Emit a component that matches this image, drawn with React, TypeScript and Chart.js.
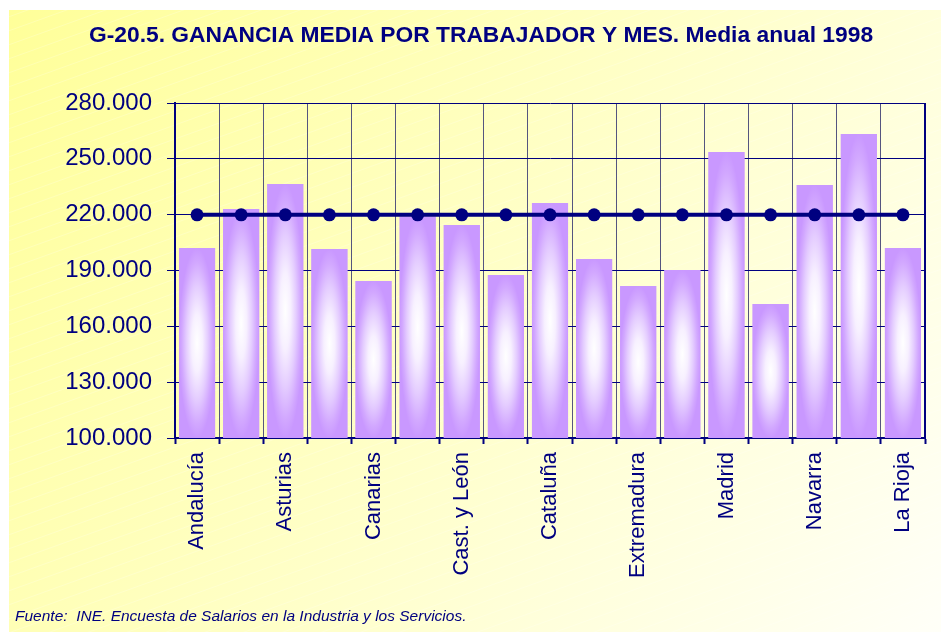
import { useEffect, useRef } from "react";
import { Chart, registerables } from "chart.js";

Chart.register(...registerables);

const regions = [
  "Andalucía",
  "Aragón",
  "Asturias",
  "Baleares",
  "Canarias",
  "Cantabria",
  "Cast. y León",
  "Cast.-La Mancha",
  "Cataluña",
  "C. Valenciana",
  "Extremadura",
  "Galicia",
  "Madrid",
  "Murcia",
  "Navarra",
  "País Vasco",
  "La Rioja",
];

const regionalEarnings = [
  202100, 223000, 236500, 201500, 184400, 219000, 214500, 187600, 226300,
  196200, 181700, 190300, 253700, 172000, 236000, 263400, 202100,
];

const nationalAverage = [
  219900, 219900, 219900, 219900, 219900, 219900, 219900, 219900, 219900,
  219900, 219900, 219900, 219900, 219900, 219900, 219900, 219900,
];

const yMin = 100000;
const yMax = 280000;
const yStep = 30000;

const titleText = "G-20.5. GANANCIA MEDIA POR TRABAJADOR Y MES. Media anual 1998";
const sourceText = "Fuente:  INE. Encuesta de Salarios en la Industria y los Servicios.";

const NAVY = "#000080";
const FONT = "'Liberation Sans', Arial, sans-serif";

const W = 941;
const H = 632;

function formatThousands(v: number): string {
  return String(Math.round(v)).replace(/\B(?=(\d{3})+(?!\d))/g, ".");
}

const backgroundPlugin = {
  id: "bgPanel",
  beforeDraw(chart: any) {
    const ctx = chart.ctx as CanvasRenderingContext2D;
    ctx.save();
    ctx.fillStyle = "#ffffff";
    ctx.fillRect(0, 0, W, H);
    const g = ctx.createLinearGradient(9, 10, W, H);
    g.addColorStop(0, "#FFFF99");
    g.addColorStop(0.5, "#FFFFC8");
    g.addColorStop(1, "#FFFFF8");
    ctx.fillStyle = g;
    ctx.fillRect(9, 10, W - 9, H - 10);
    ctx.beginPath();
    ctx.rect(9, 10, W - 9, H - 10);
    ctx.clip();
    ctx.strokeStyle = "rgba(255,255,255,0.22)";
    ctx.lineWidth = 1;
    const slope = 0.36;
    for (let c = -400; c < H + W * slope + 20; c += 14) {
      ctx.beginPath();
      ctx.moveTo(0, c);
      ctx.lineTo(W, c - W * slope);
      ctx.stroke();
    }
    ctx.restore();
  },
};

const frameAndTextPlugin = {
  id: "frameText",
  beforeDatasetsDraw(chart: any) {
    const ctx = chart.ctx as CanvasRenderingContext2D;
    const a = chart.chartArea;
    ctx.save();
    ctx.strokeStyle = NAVY;
    ctx.lineWidth = 2;
    ctx.beginPath();
    ctx.moveTo(a.right, a.top);
    ctx.lineTo(a.right, a.bottom);
    ctx.stroke();
    ctx.restore();
  },
  afterDraw(chart: any) {
    const ctx = chart.ctx as CanvasRenderingContext2D;
    ctx.save();
    ctx.fillStyle = NAVY;
    ctx.font = `bold 22.8px ${FONT}`;
    ctx.textAlign = "center";
    ctx.textBaseline = "alphabetic";
    ctx.fillText(titleText, 481, 42);
    ctx.font = `italic 15.5px ${FONT}`;
    ctx.textAlign = "left";
    ctx.fillText(sourceText, 15, 621);
    ctx.restore();
  },
};

const barGlowPlugin = {
  id: "barGlow",
  afterDatasetDraw(chart: any, args: any) {
    if (args.meta.type !== "bar") return;
    const ctx = chart.ctx as CanvasRenderingContext2D;
    const area = chart.chartArea;
    for (const el of args.meta.data) {
      const p = el.getProps(["x", "y", "base", "width"], true);
      const w = p.width;
      const top = Math.max(Math.min(p.y, p.base), area.top);
      const bottom = Math.min(Math.max(p.y, p.base), area.bottom);
      const h = bottom - top;
      if (w <= 0 || h <= 0) continue;
      ctx.save();
      ctx.beginPath();
      ctx.rect(p.x - w / 2, top, w, h);
      ctx.clip();
      ctx.translate(p.x, top + h / 2);
      ctx.scale(1, h / w);
      const g = ctx.createRadialGradient(0, 0, 0, 0, 0, w / 2);
      g.addColorStop(0, "#FFFFFF");
      g.addColorStop(0.3, "#F7F0FF");
      g.addColorStop(0.6, "#E4CCFF");
      g.addColorStop(0.85, "#D2A8FF");
      g.addColorStop(1, "#C998FF");
      ctx.fillStyle = g;
      ctx.fillRect(-w / 2, -w / 2, w, w);
      ctx.restore();
    }
  },
};

export default function App() {
  const ref = useRef<HTMLCanvasElement | null>(null);

  useEffect(() => {
    if (!ref.current) return;
    const chart = new Chart(ref.current, {
      type: "bar",
      data: {
        labels: regions,
        datasets: [
          {
            type: "line",
            label: "Media nacional",
            data: nationalAverage,
            borderColor: NAVY,
            backgroundColor: NAVY,
            borderWidth: 4,
            pointRadius: 6.5,
            pointBackgroundColor: NAVY,
            pointBorderWidth: 0,
            fill: false,
            order: 0,
          } as any,
          {
            type: "bar",
            label: "Ganancia media",
            data: regionalEarnings,
            backgroundColor: "#C998FF",
            borderWidth: 0,
            categoryPercentage: 1,
            barPercentage: 0.82,
            order: 1,
          },
        ],
      },
      options: {
        responsive: false,
        animation: false,
        devicePixelRatio: 1,
        layout: { padding: { top: 103, right: 16, left: 0, bottom: 0 } },
        plugins: {
          legend: { display: false },
          title: { display: false },
          tooltip: { enabled: false },
        },
        scales: {
          x: {
            offset: true,
            grid: {
              offset: true,
              color: "#55557F",
              lineWidth: 1,
              drawTicks: true,
              tickLength: 6,
              tickColor: NAVY,
              tickWidth: 2,
            },
            border: { display: true, color: NAVY, width: 2 },
            ticks: {
              autoSkip: false,
              minRotation: 90,
              maxRotation: 90,
              padding: 8,
              color: NAVY,
              font: { family: FONT, size: 22 },
              callback: (_v: any, i: number) => (i % 2 === 0 ? regions[i] : ""),
            },
            afterFit: (scale: any) => {
              scale.height = H - 438;
            },
          },
          y: {
            min: yMin,
            max: yMax,
            grid: {
              color: NAVY,
              lineWidth: 1,
              drawTicks: true,
              tickLength: 8,
              tickColor: NAVY,
            },
            border: { display: true, color: NAVY, width: 2 },
            ticks: {
              stepSize: yStep,
              padding: 15,
              color: NAVY,
              font: { family: FONT, size: 24 },
              callback: (v: any) => formatThousands(Number(v)),
            },
            afterFit: (scale: any) => {
              scale.width = 175;
            },
          },
        },
      },
      plugins: [backgroundPlugin, barGlowPlugin, frameAndTextPlugin],
    });
    return () => chart.destroy();
  }, []);

  return (
    <div style={{ position: "absolute", left: 0, top: 0, width: W, height: H }}>
      <canvas ref={ref} width={W} height={H} style={{ width: W, height: H, display: "block" }} />
    </div>
  );
}
